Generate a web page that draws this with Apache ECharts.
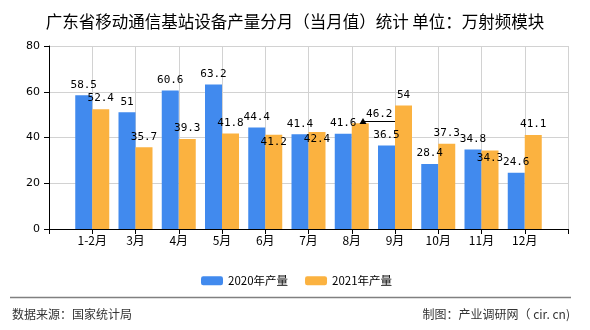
<!DOCTYPE html>
<html>
<head>
<meta charset="utf-8">
<script src="https://cdn.jsdelivr.net/npm/echarts@6/dist/echarts.min.js"></script>
<style>
html,body{margin:0;padding:0;background:#fff;}
#c{width:590px;height:330px;}
</style>
</head>
<body>
<div id="c"></div>
<script>
// ---- data ----
var titleText = '广东省移动通信基站设备产量分月（当月值）统计 单位：万射频模块';
var months = ['1-2月','3月','4月','5月','6月','7月','8月','9月','10月','11月','12月'];
var seriesNames = ['2020年产量','2021年产量'];
var values2020 = [58.5, 51, 60.6, 63.2, 44.4, 41.4, 41.6, 36.5, 28.4, 34.8, 24.6];
var values2021 = [52.4, 35.7, 39.3, 41.8, 41.2, 42.4, 46.2, 54, 37.3, 34.3, 41.1];
var yTicks = [0, 20, 40, 60, 80];
var sourceText = '数据来源：国家统计局';
var creditText = '制图：产业调研网（ cir. cn)';

// ---- build ----
var cats = [''].concat(months, ['']);
var insideIdx2021 = [4, 5, 9];   // labels drawn inside bar top
var shiftedIdx2021 = 6;          // label moved right with leader line

function pad(arr, mapFn) {
  var out = [null];
  arr.forEach(function (v, i) { out.push(mapFn ? mapFn(v, i) : v); });
  out.push(null);
  return out;
}

var data2020 = pad(values2020);
var data2021 = pad(values2021, function (v, i) {
  if (insideIdx2021.indexOf(i) >= 0) {
    return { value: v, label: { position: 'insideTop', distance: 2 } };
  }
  if (i === shiftedIdx2021) {
    return { value: v, label: { offset: [19, 1] } };
  }
  return v;
});

var labelStyle = {
  show: true,
  position: 'top',
  distance: 5,
  color: '#000',
  fontFamily: 'DejaVu Sans Mono',
  fontSize: 11
};

var chart = echarts.init(document.getElementById('c'), null, { renderer: 'canvas' });
chart.setOption({
  animation: false,
  backgroundColor: '#fff',
  title: {
    text: titleText,
    left: 'center',
    top: 8,
    textStyle: { fontFamily: 'Noto Sans CJK SC', fontSize: 16.5, fontWeight: 'normal', color: '#000' }
  },
  legend: {
    data: seriesNames,
    left: 196,
    top: 270,
    itemWidth: 22,
    itemHeight: 9,
    itemGap: 17,
    textStyle: { fontFamily: 'Noto Sans CJK SC', fontSize: 11.5, color: '#000' }
  },
  grid: { left: 49, right: 22, top: 46, bottom: 101, containLabel: false },
  xAxis: [{
    type: 'category',
    data: cats,
    boundaryGap: false,
    axisLine: { lineStyle: { color: '#000', width: 1 } },
    axisTick: { show: true, interval: 0, length: 5, lineStyle: { color: '#000' } },
    axisLabel: { interval: 0, color: '#000', fontFamily: 'Noto Sans CJK SC', fontSize: 12, margin: 5 },
    splitLine: { show: true, interval: 0, lineStyle: { color: '#d2d2d2', width: 1 } }
  }, {
    type: 'value',
    min: 0,
    max: cats.length - 1,
    show: false
  }],
  yAxis: {
    type: 'value',
    min: yTicks[0],
    max: yTicks[yTicks.length - 1],
    interval: yTicks[1] - yTicks[0],
    axisLine: { show: true, lineStyle: { color: '#000', width: 1 } },
    axisTick: { show: true, length: 5, lineStyle: { color: '#000' } },
    axisLabel: { color: '#000', fontFamily: 'DejaVu Sans', fontSize: 11, margin: 9 },
    splitLine: { show: true, lineStyle: { color: '#d2d2d2', width: 1 } }
  },
  series: [{
    name: seriesNames[0],
    type: 'bar',
    data: data2020,
    barWidth: 17,
    barGap: '0%',
    itemStyle: { color: '#418AEE' },
    label: labelStyle
  }, {
    name: seriesNames[1],
    type: 'bar',
    data: data2021,
    barWidth: 17,
    barGap: '0%',
    itemStyle: { color: '#FBB240' },
    label: labelStyle
  }, {
    name: 'leader',
    type: 'line',
    xAxisIndex: 1,
    data: [],
    silent: true,
    markLine: {
      silent: true,
      animation: false,
      symbol: ['triangle', 'none'],
      symbolSize: [7, 6],
      label: { show: false },
      lineStyle: { color: '#000', width: 1, type: 'solid' },
      data: [[
        { coord: [shiftedIdx2021 + 1.26, 47.2], symbolRotate: 0 },
        { coord: [shiftedIdx2021 + 2, 47.2] }
      ]]
    }
  }],
  graphic: [{
    type: 'line',
    shape: { x1: 10, y1: 297.5, x2: 571, y2: 297.5 },
    style: { stroke: '#808080', lineWidth: 1.5 }
  }, {
    type: 'text',
    left: 12,
    top: 308,
    style: { text: sourceText, fill: '#333', font: '12px "Noto Sans CJK SC"' }
  }, {
    type: 'text',
    right: 20,
    top: 308,
    style: { text: creditText, fill: '#333', font: '12px "Noto Sans CJK SC"' }
  }]
});
</script>
</body>
</html>
